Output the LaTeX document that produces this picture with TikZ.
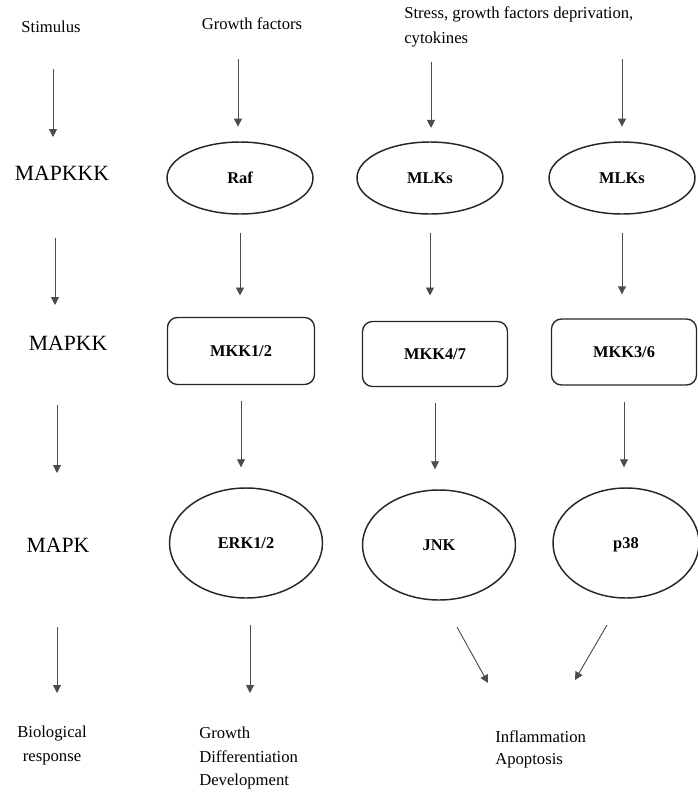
\documentclass[tikz,border=0pt]{standalone}
\usepackage{fontspec}
\setmainfont{Liberation Serif}
\usetikzlibrary{shapes.geometric,arrows.meta}
\begin{document}
\begin{tikzpicture}[x=0.75pt,y=-0.75pt,
  txt/.style={inner sep=0pt,font=\fontsize{12.5}{18}\selectfont},
  caps/.style={inner sep=0pt,font=\fontsize{16.3}{19}\selectfont},
  oval/.style={ellipse,draw=black!85,line width=1.1pt,inner sep=0pt,
    text height=8.3pt,text depth=0pt,
    font=\fontsize{12.3}{15}\selectfont\bfseries},
  rbox/.style={rectangle,rounded corners=7.5pt,draw=black!85,line width=1pt,inner sep=0pt,
    text height=8.3pt,text depth=0pt,
    font=\fontsize{12.3}{15}\selectfont\bfseries},
  arr/.style={draw=black!70,line width=0.7pt,-{Triangle[length=6pt,width=6pt]}}
]
\useasboundingbox (0,0) rectangle (698,796);
% top texts
\node[txt] (stim) at (51,27) {Stimulus};
\node[txt] (gf) at (252,24) {Growth factors};
\node[txt,align=left,anchor=west,font=\fontsize{12.5}{18.75}\selectfont] (stress) at (404,27)
  {Stress, growth factors deprivation,\\cytokines};
% level labels
\node[caps] (mapkkk) at (62,173) {MAPKKK};
\node[caps] (mapkk) at (68,343) {MAPKK};
\node[caps] (mapk) at (58,545) {MAPK};
% MAPKKK
\node[oval,minimum width=109.5pt,minimum height=54pt] (raf) at (240,178) {Raf};
\node[oval,minimum width=109.5pt,minimum height=54pt] (mlk1) at (430,178) {MLKs};
\node[oval,minimum width=109.5pt,minimum height=54pt] (mlk2) at (622,178) {MLKs};
% MAPKK
\node[rbox,minimum width=110.25pt,minimum height=50.25pt] (mkk12) at (241,351) {MKK1/2};
\node[rbox,minimum width=108.75pt,minimum height=48.75pt] (mkk47) at (435,354) {MKK4/7};
\node[rbox,minimum width=108.75pt,minimum height=49.5pt] (mkk36) at (624,352) {MKK3/6};
% MAPK
\node[oval,minimum width=114.75pt,minimum height=82.5pt] (erk) at (246,543) {ERK1/2};
\node[oval,minimum width=114.75pt,minimum height=82.5pt] (jnk) at (439,545) {JNK};
\node[oval,minimum width=109.5pt,minimum height=82.5pt] (p38) at (626,543) {p38};
% bottom texts
\node[txt,align=center,font=\fontsize{12.5}{18}\selectfont] (bio) at (52,745) {Biological\\response};
\node[txt,align=left,anchor=west,font=\fontsize{12.5}{17.6}\selectfont] (gdd) at (199,758)
  {Growth\\Differentiation\\Development};
\node[txt,align=left,anchor=west,font=\fontsize{12.5}{16.5}\selectfont] (infl) at (495,749)
  {Inflammation\\Apoptosis};
% left column arrows
\coordinate (l0a) at (53,69);  \coordinate (l0b) at (53,137);
\coordinate (l1a) at (55,238); \coordinate (l1b) at (55,305);
\coordinate (l2a) at (57,405); \coordinate (l2b) at (57,473);
\coordinate (l3a) at (57,627); \coordinate (l3b) at (57,693);
\draw[arr] (l0a) -- (l0b);
\draw[arr] (l1a) -- (l1b);
\draw[arr] (l2a) -- (l2b);
\draw[arr] (l3a) -- (l3b);
% top arrows
\coordinate (t1) at (238,59);
\coordinate (t2) at (431,62);
\coordinate (t3) at (622,59);
\draw[arr,shorten >=11pt] (t1) -- (t1 |- raf.north);
\draw[arr,shorten >=10pt] (t2) -- (t2 |- mlk1.north);
\draw[arr,shorten >=11pt] (t3) -- (t3 |- mlk2.north);
% MAPKKK -> MAPKK
\draw[arr,shorten <=14pt,shorten >=16pt] (raf.south) -- (raf.south |- mkk12.north);
\draw[arr,shorten <=14pt,shorten >=19pt] (mlk1.south) -- (mlk1.south |- mkk47.north);
\draw[arr,shorten <=14pt,shorten >=18pt] (mlk2.south) -- (mlk2.south |- mkk36.north);
% MAPKK -> MAPK
\draw[arr,shorten <=12pt,shorten >=15pt] (mkk12.south) -- (mkk12.south |- erk.north);
\draw[arr,shorten <=12pt,shorten >=15pt] (mkk47.south) -- (mkk47.south |- jnk.north);
\draw[arr,shorten <=12pt,shorten >=15pt] (mkk36.south) -- (mkk36.south |- p38.north);
% MAPK -> responses
\coordinate (b1a) at (250,625); \coordinate (b1b) at (250,693);
\coordinate (b2a) at (457,627); \coordinate (b2b) at (488,683);
\coordinate (b3a) at (607,625); \coordinate (b3b) at (575,680);
\draw[arr] (b1a) -- (b1b);
\draw[arr] (b2a) -- (b2b);
\draw[arr] (b3a) -- (b3b);
\end{tikzpicture}
\end{document}
